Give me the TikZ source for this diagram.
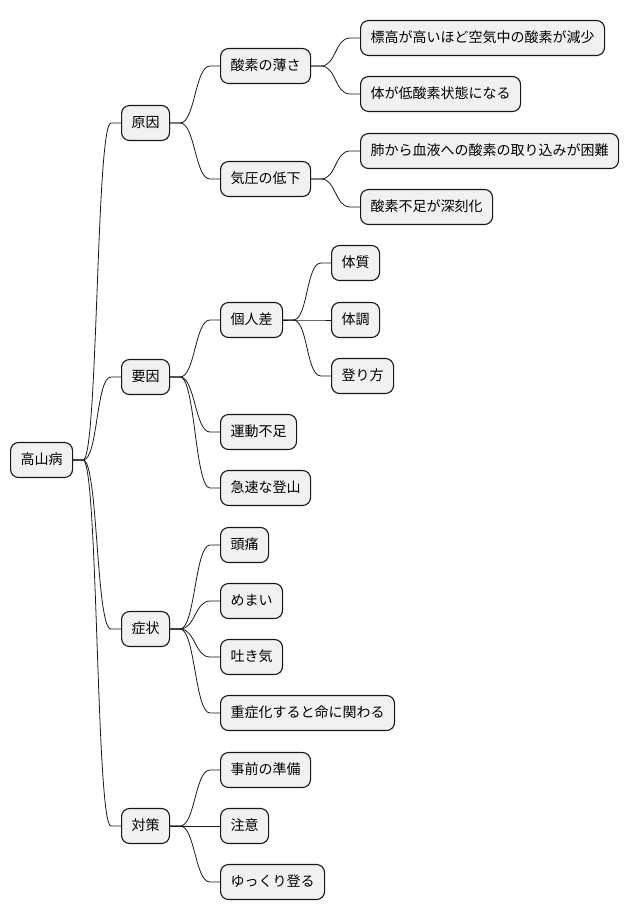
\documentclass[tikz,border=0pt]{standalone}
\usepackage{fontspec}
\setmainfont{Noto Sans CJK JP}
\usetikzlibrary{calc}
\definecolor{boxfill}{HTML}{F1F1F1}
\definecolor{boxline}{HTML}{181818}

\begin{document}
\begin{tikzpicture}[x=1pt, y=-1pt,
        box/.style={draw=boxline, fill=boxfill, line width=1.1pt, rounded corners=8pt,
            anchor=west, minimum height=35pt, inner xsep=10pt,
            font=\fontsize{14pt}{16pt}\selectfont, text height=11pt, text depth=3pt},
        conn/.style={draw=boxline, line width=0.8pt,
            to path={-- ++(10,0) .. controls +(15,0) and +(-15,0) .. ($(\tikztotarget)+(-10,0)$) -- (\tikztotarget)}},
    ]
    \useasboundingbox (0,0) rectangle (628,921);

    % root
    \node[box] (kouzan) at (10,460) {高山病};

    % level 1
    \node[box] (genin) at (121,123) {原因};
    \node[box] (youin) at (121,377) {要因};
    \node[box] (shoujou) at (121,629) {症状};
    \node[box] (taisaku) at (121,826) {対策};

    % level 2
    \node[box] (ususa) at (220,66) {酸素の薄さ};
    \node[box] (kiatsu) at (220,179) {気圧の低下};
    \node[box] (kojin) at (220,320) {個人差};
    \node[box] (undou) at (220,432) {運動不足};
    \node[box] (kyuusoku) at (220,488) {急速な登山};
    \node[box] (zutsuu) at (220,545) {頭痛};
    \node[box] (memai) at (220,601) {めまい};
    \node[box] (hakike) at (220,657) {吐き気};
    \node[box] (juushou) at (220,713) {重症化すると命に関わる};
    \node[box] (jizen) at (220,770) {事前の準備};
    \node[box] (chuui) at (220,826) {注意};
    \node[box] (yukkuri) at (220,882) {ゆっくり登る};

    % level 3
    \node[box] (hyoukou) at (360,38) {標高が高いほど空気中の酸素が減少};
    \node[box] (teisanso) at (360,94) {体が低酸素状態になる};
    \node[box] (hai) at (360,151) {肺から血液への酸素の取り込みが困難};
    \node[box] (shinkoku) at (360,207) {酸素不足が深刻化};
    \node[box] (taishitsu) at (331,263) {体質};
    \node[box] (taichou) at (331,320) {体調};
    \node[box] (noborikata) at (331,376) {登り方};

    \foreach \a/\b in {kouzan/genin, kouzan/youin, kouzan/shoujou, kouzan/taisaku,
        genin/ususa, genin/kiatsu, ususa/hyoukou, ususa/teisanso, kiatsu/hai, kiatsu/shinkoku,
        youin/kojin, youin/undou, youin/kyuusoku, kojin/taishitsu, kojin/taichou, kojin/noborikata,
        shoujou/zutsuu, shoujou/memai, shoujou/hakike, shoujou/juushou,
        taisaku/jizen, taisaku/chuui, taisaku/yukkuri}
        \draw[conn] (\a.east) to (\b.west);
\end{tikzpicture}
\end{document}
